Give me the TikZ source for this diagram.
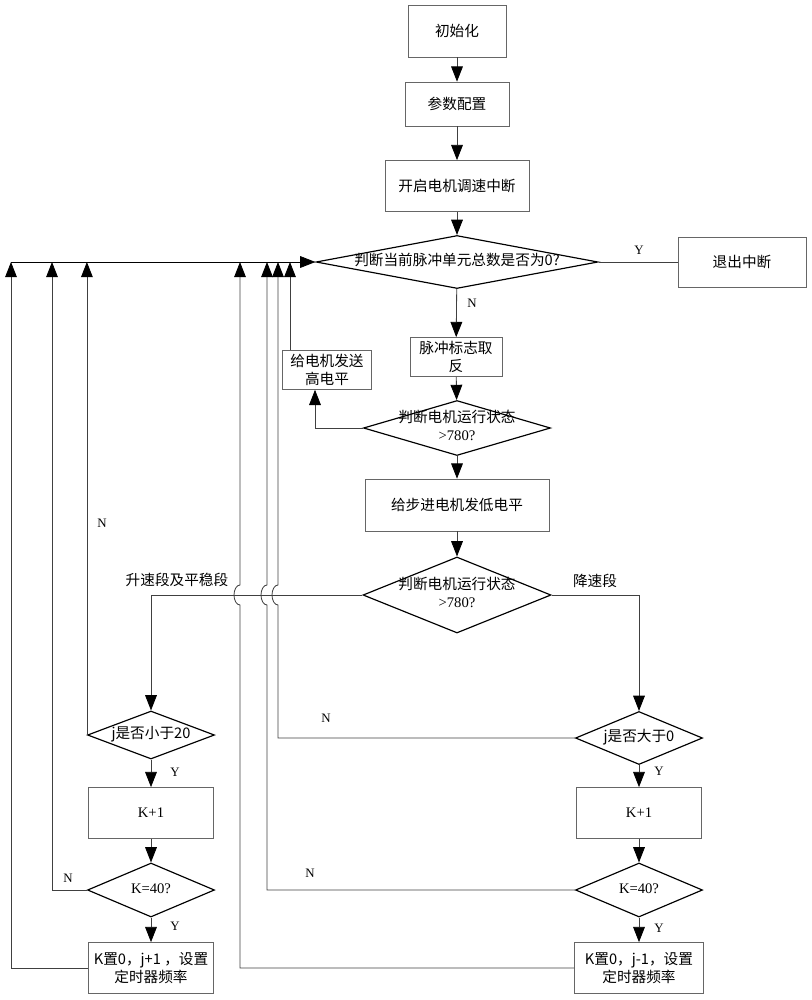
\documentclass[tikz,border=0pt]{standalone}
\usepackage{fontspec}
\setmainfont{Liberation Serif}
\newfontfamily\cjk{Noto Sans CJK SC}
\usetikzlibrary{shapes.geometric,arrows.meta}
\newcommand{\dtext}[1]{\makebox[0pt]{\begin{tabular}{@{}c@{}}#1\end{tabular}}}

\begin{document}
\begin{tikzpicture}[x=0.03cm, y=-0.03cm,
        process/.style={rectangle, draw=black!60, line width=0.6pt, font=\cjk\fontsize{12.5}{15}\selectfont, align=center},
        decision/.style={diamond, draw=black, line width=1pt, inner sep=0pt, font=\cjk\fontsize{12.5}{15}\selectfont},
        phase/.style={font=\cjk\fontsize{12.5}{15}\selectfont, inner sep=1pt},
        tag/.style={font=\fontsize{11}{13}\selectfont, inner sep=1pt},
        line/.style={draw=black!75, line width=0.7pt},
        >={Triangle[length=13pt,width=10pt,color=black]}]
        \useasboundingbox (0,0) rectangle (812,1000);

        % Main column
        \node[process, minimum width=2.94cm, minimum height=1.56cm] (init) at (457,31) {初始化};
        \node[process, minimum width=3.12cm, minimum height=1.32cm] (config) at (457,104) {参数配置};
        \node[process, minimum width=4.32cm, minimum height=1.53cm] (enable) at (457,186) {开启电机调速中断};
        \node[decision, minimum width=8.46cm, minimum height=1.59cm] (chkzero) at (457,262) {\dtext{判断当前脉冲单元总数是否为0?}};
        \node[process, minimum width=3.84cm, minimum height=1.5cm] (quit) at (742,262) {退出中断};
        \node[process, minimum width=2.76cm, minimum height=1.17cm] (toggle) at (456,357) {脉冲标志取\\反};
        \node[process, minimum width=2.67cm, minimum height=1.14cm] (sendhigh) at (327,370) {给电机发送\\高电平};
        \node[decision, minimum width=5.61cm, minimum height=1.65cm] (chkstate) at (457,428) {\dtext{判断电机运行状态\\{\rmfamily >780?}}};
        \node[process, minimum width=5.52cm, minimum height=1.56cm] (sendlow) at (457,505) {给步进电机发低电平};
        \node[decision, minimum width=5.64cm, minimum height=2.28cm] (chkphase) at (457,595) {\dtext{判断电机运行状态\\{\rmfamily >780?}}};

        % Left branch
        \node[decision, minimum width=3.81cm, minimum height=1.44cm] (jless) at (151,735) {\dtext{j是否小于20}};
        \node[process, minimum width=3.75cm, minimum height=1.53cm, font=\fontsize{12.5}{15}\selectfont] (kinca) at (151,813) {K+1};
        \node[decision, minimum width=3.81cm, minimum height=1.62cm, font=\fontsize{12.5}{15}\selectfont] (kfulla) at (151,890) {\dtext{K=40?}};
        \node[process, minimum width=3.75cm, minimum height=1.53cm] (resetup) at (151,968) {K置0，j+1 ，设置\\定时器频率};

        % Right branch
        \node[decision, minimum width=3.81cm, minimum height=1.59cm] (jmore) at (639,738) {\dtext{j是否大于0}};
        \node[process, minimum width=3.75cm, minimum height=1.53cm, font=\fontsize{12.5}{15}\selectfont] (kincb) at (639,813) {K+1};
        \node[decision, minimum width=3.81cm, minimum height=1.62cm, font=\fontsize{12.5}{15}\selectfont] (kfullb) at (639,890) {\dtext{K=40?}};
        \node[process, minimum width=3.87cm, minimum height=1.53cm] (resetdown) at (639,968) {K置0，j-1，设置\\定时器频率};

        % Return points on the top line and line hops
        \coordinate (topa) at (11,262);
        \coordinate (topb) at (52,262);
        \coordinate (topc) at (240,262);
        \coordinate (topd) at (267,262);
        \coordinate (tope) at (278,262);
        \coordinate (hopc) at (240,605);
        \coordinate (hopd) at (267,605);
        \coordinate (hope) at (278,605);

        % Labels
        \node[tag] (yquit) at (639,250) {Y};
        \node[tag] (nzero) at (472,303) {N};
        \node[tag] (njless) at (102,523) {N};
        \node[tag] (yjless) at (175,772) {Y};
        \node[tag] (nkfulla) at (68,878) {N};
        \node[tag] (ykfulla) at (175,926) {Y};
        \node[tag] (njmore) at (326,718) {N};
        \node[tag] (yjmore) at (659,771) {Y};
        \node[tag] (nkfullb) at (310,873) {N};
        \node[tag] (ykfullb) at (659,928) {Y};
        \node[phase] (up) at (177,580) {升速段及平稳段};
        \node[phase] (down) at (595,581) {降速段};

        % Arrows
        \draw[line,->] (init) -- (config);
        \draw[line,->] (config) -- (enable);
        \draw[line,->] (enable) -- (chkzero);
        \draw[line] (chkzero) -- (quit);
        \draw[line,->] (chkzero) -- (toggle);
        \draw[line,->] (toggle) -- (chkstate);
        \draw[line,->] (chkstate.west) -| ([xshift=-0.36cm]sendhigh.south);
        \draw[line,->] ([xshift=-1.11cm]sendhigh.north) -- ([xshift=-1.11cm]sendhigh.north |- chkzero.west);
        \draw[line,->] (chkstate) -- (sendlow);
        \draw[line,->] (sendlow) -- (chkphase);
        \draw[line,->] (chkphase.west) -| (jless.north);
        \draw[line,->] (chkphase.east) -| (jmore.north);

        \draw[line,->] (jless) -- (kinca);
        \draw[line,->] (kinca) -- (kfulla);
        \draw[line,->] (kfulla) -- (resetup);
        \draw[line,->] (jmore) -- (kincb);
        \draw[line,->] (kincb) -- (kfullb);
        \draw[line,->] (kfullb) -- (resetdown);

        % Back to the first test
        \draw[line,->, draw=black] (topa) -- (chkzero.west);
        \draw[line,->] (resetup.west) -| (topa);
        \draw[line,->] (kfulla.west) -| (topb);
        \draw[line,->] (jless.west) -- (jless.west |- chkzero.west);
        \draw[line,->] (resetdown.west) -| (hopc) arc[start angle=270, end angle=90, x radius=0.18cm, y radius=0.3cm] -- (topc);
        \draw[line,->] (kfullb.west) -| (hopd) arc[start angle=270, end angle=90, x radius=0.18cm, y radius=0.3cm] -- (topd);
        \draw[line,->] (jmore.west) -| (hope) arc[start angle=270, end angle=90, x radius=0.18cm, y radius=0.3cm] -- (tope);
\end{tikzpicture}
\end{document}
